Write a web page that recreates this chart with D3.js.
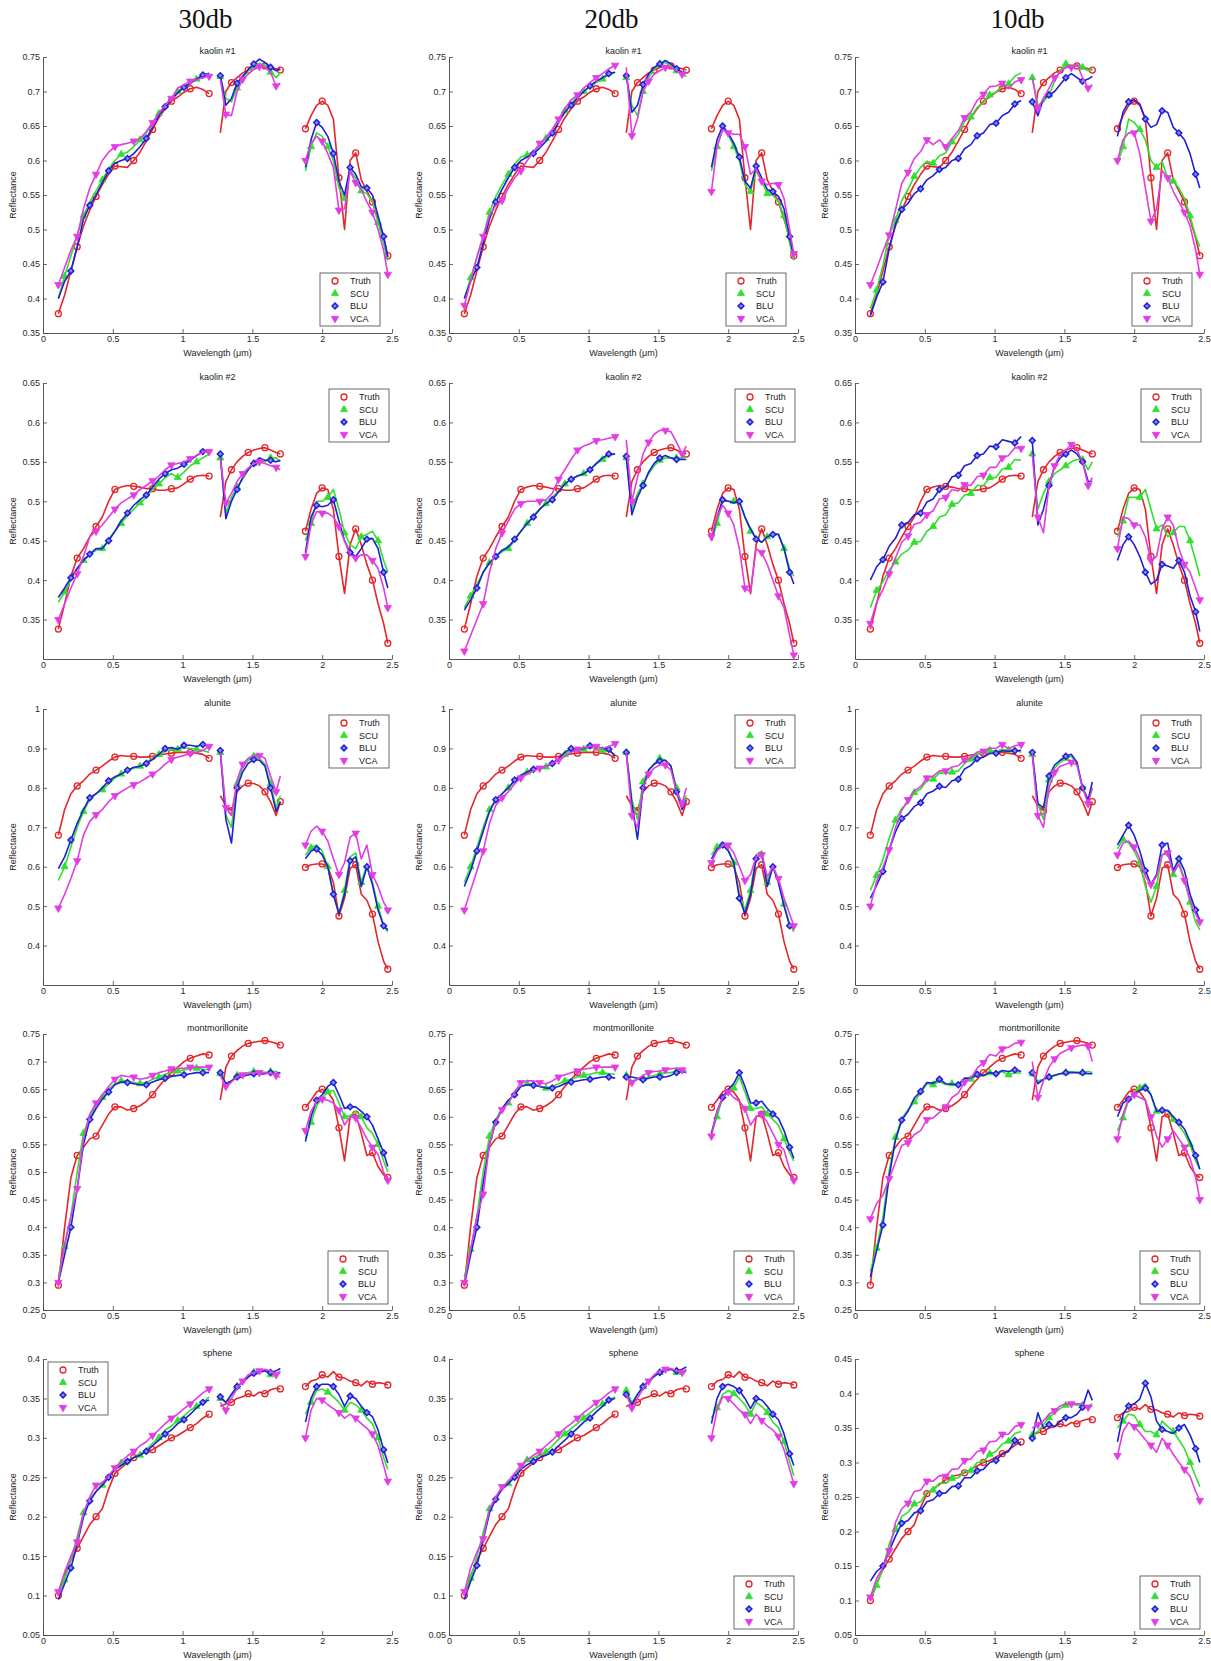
<!DOCTYPE html>
<html><head><meta charset="utf-8">
<script src="https://cdn.jsdelivr.net/npm/d3@7"></script>
<style>
body{margin:0;background:#fff;}
svg{display:block;}
</style></head><body>
<svg id="chart" width="1211" height="1661"></svg>
<script>
// ---------- data ----------
const wl1 = [0.11,0.155,0.2,0.245,0.29,0.335,0.38,0.425,0.47,0.515,0.56,0.605,0.65,0.695,0.74,0.785,0.83,0.875,0.92,0.965,1.01,1.055,1.1,1.145,1.19];
const wl2 = [1.27,1.31,1.35,1.39,1.43,1.47,1.51,1.55,1.59,1.63,1.67,1.7];
const wl3 = [1.88,1.92,1.96,2,2.04,2.08,2.12,2.16,2.2,2.24,2.28,2.32,2.36,2.4,2.44,2.47];
const materials = ["kaolin #1","kaolin #2","alunite","montmorillonite","sphene"];
const noiseLevels = ["30db","20db","10db"];
const seriesNames = ["Truth","SCU","BLU","VCA"];
const xTicks = [0,0.5,1,1.5,2,2.5];

const yDomKaolin1 = [0.35,0.75], yTicksKaolin1 = [0.35,0.4,0.45,0.5,0.55,0.6,0.65,0.7,0.75];
const yDomKaolin2 = [0.3,0.65], yTicksKaolin2 = [0.35,0.4,0.45,0.5,0.55,0.6,0.65];
const yDomAlunite = [0.3,1], yTicksAlunite = [0.4,0.5,0.6,0.7,0.8,0.9,1];
const yDomMont = [0.25,0.75], yTicksMont = [0.25,0.3,0.35,0.4,0.45,0.5,0.55,0.6,0.65,0.7,0.75];
const yDomSphene = [0.05,0.4], yTicksSphene = [0.05,0.1,0.15,0.2,0.25,0.3,0.35,0.4];
const yDomSphene10 = [0.05,0.45], yTicksSphene10 = [0.05,0.1,0.15,0.2,0.25,0.3,0.35,0.4,0.45];

// kaolin #1
const truthKaolin1 = [0.378,0.405,0.44,0.475,0.505,0.528,0.548,0.565,0.58,0.592,0.591,0.59,0.6,0.612,0.628,0.645,0.662,0.675,0.686,0.692,0.699,0.704,0.706,0.703,0.697, 0.64,0.7,0.713,0.72,0.727,0.731,0.735,0.737,0.737,0.735,0.733,0.731, 0.646,0.665,0.68,0.686,0.68,0.66,0.575,0.5,0.6,0.611,0.572,0.556,0.54,0.515,0.488,0.462];
const scuKaolin1_30 = [0.4,0.432,0.462,0.492,0.52,0.54,0.556,0.572,0.588,0.6,0.609,0.612,0.62,0.63,0.64,0.655,0.668,0.68,0.69,0.7,0.708,0.712,0.718,0.723,0.727, 0.722,0.69,0.685,0.705,0.72,0.73,0.737,0.741,0.738,0.728,0.72,0.727, 0.585,0.62,0.64,0.635,0.62,0.6,0.56,0.545,0.585,0.575,0.556,0.552,0.54,0.51,0.48,0.455];
const bluKaolin1_30 = [0.4,0.425,0.44,0.475,0.515,0.535,0.55,0.568,0.585,0.596,0.6,0.603,0.61,0.62,0.632,0.648,0.665,0.678,0.688,0.698,0.706,0.712,0.718,0.724,0.726, 0.723,0.68,0.69,0.712,0.722,0.732,0.74,0.747,0.742,0.735,0.73,0.733, 0.59,0.63,0.655,0.648,0.635,0.61,0.57,0.55,0.59,0.58,0.562,0.56,0.55,0.52,0.49,0.46];
const vcaKaolin1_30 = [0.42,0.445,0.47,0.49,0.53,0.56,0.58,0.6,0.612,0.62,0.623,0.625,0.628,0.632,0.642,0.655,0.668,0.68,0.69,0.705,0.71,0.715,0.717,0.72,0.722, 0.718,0.667,0.665,0.7,0.718,0.725,0.732,0.736,0.735,0.728,0.708,0.712, 0.6,0.625,0.635,0.628,0.61,0.59,0.528,0.53,0.585,0.568,0.558,0.54,0.525,0.5,0.47,0.435];
const scuKaolin1_20 = [0.4,0.43,0.46,0.49,0.525,0.548,0.565,0.58,0.595,0.605,0.608,0.612,0.622,0.632,0.645,0.66,0.672,0.683,0.693,0.7,0.707,0.713,0.718,0.724,0.728, 0.72,0.68,0.665,0.7,0.72,0.732,0.74,0.742,0.738,0.73,0.724,0.722, 0.585,0.62,0.645,0.638,0.62,0.6,0.565,0.555,0.585,0.57,0.552,0.55,0.54,0.52,0.48,0.455];
const bluKaolin1_20 = [0.4,0.425,0.445,0.48,0.515,0.54,0.558,0.575,0.59,0.6,0.605,0.61,0.618,0.628,0.64,0.655,0.67,0.68,0.69,0.7,0.708,0.715,0.72,0.726,0.728, 0.723,0.67,0.68,0.71,0.725,0.735,0.74,0.745,0.74,0.733,0.728,0.727, 0.59,0.63,0.65,0.64,0.625,0.605,0.57,0.56,0.592,0.575,0.558,0.555,0.548,0.53,0.49,0.46];
const vcaKaolin1_20 = [0.39,0.425,0.46,0.49,0.52,0.535,0.542,0.56,0.575,0.585,0.6,0.612,0.625,0.633,0.645,0.66,0.675,0.688,0.695,0.705,0.713,0.72,0.726,0.733,0.738, 0.735,0.636,0.66,0.7,0.715,0.725,0.73,0.735,0.735,0.73,0.725,0.726, 0.555,0.62,0.645,0.64,0.638,0.638,0.62,0.58,0.588,0.57,0.565,0.567,0.565,0.545,0.5,0.465];
const scuKaolin1_10 = [0.385,0.412,0.448,0.492,0.513,0.542,0.558,0.577,0.59,0.599,0.596,0.607,0.611,0.627,0.638,0.657,0.663,0.677,0.684,0.695,0.699,0.708,0.711,0.722,0.727, 0.72,0.68,0.685,0.695,0.715,0.73,0.74,0.738,0.738,0.735,0.73,0.735, 0.595,0.62,0.66,0.655,0.645,0.63,0.6,0.59,0.598,0.575,0.57,0.56,0.545,0.52,0.49,0.475];
const bluKaolin1_10 = [0.375,0.402,0.424,0.472,0.508,0.529,0.538,0.552,0.559,0.572,0.578,0.587,0.59,0.6,0.603,0.617,0.623,0.636,0.64,0.652,0.654,0.665,0.67,0.682,0.687, 0.685,0.665,0.69,0.695,0.7,0.71,0.72,0.726,0.72,0.715,0.718,0.722, 0.635,0.67,0.685,0.688,0.682,0.66,0.648,0.652,0.672,0.67,0.648,0.64,0.63,0.61,0.58,0.56];
const vcaKaolin1_10 = [0.42,0.443,0.468,0.492,0.528,0.567,0.583,0.603,0.613,0.63,0.623,0.63,0.62,0.632,0.643,0.662,0.67,0.687,0.696,0.707,0.708,0.712,0.704,0.714,0.717, 0.72,0.675,0.69,0.705,0.72,0.728,0.735,0.735,0.74,0.72,0.705,0.71, 0.6,0.63,0.64,0.64,0.61,0.56,0.512,0.53,0.585,0.575,0.555,0.54,0.525,0.505,0.47,0.435];

// kaolin #2
const truthKaolin2 = [0.338,0.37,0.405,0.428,0.44,0.455,0.468,0.48,0.5,0.515,0.518,0.52,0.519,0.518,0.516,0.516,0.514,0.514,0.516,0.517,0.522,0.528,0.532,0.533,0.532, 0.48,0.525,0.54,0.55,0.557,0.562,0.565,0.567,0.568,0.565,0.562,0.56, 0.462,0.49,0.51,0.517,0.515,0.49,0.43,0.383,0.445,0.465,0.445,0.42,0.4,0.37,0.345,0.32];
const scuKaolin2_30 = [0.372,0.385,0.4,0.415,0.425,0.432,0.438,0.44,0.452,0.462,0.472,0.482,0.49,0.498,0.505,0.515,0.522,0.53,0.535,0.53,0.537,0.545,0.55,0.555,0.56, 0.555,0.485,0.505,0.518,0.528,0.54,0.548,0.552,0.55,0.555,0.555,0.55, 0.45,0.472,0.5,0.5,0.505,0.515,0.49,0.46,0.445,0.44,0.455,0.458,0.462,0.45,0.425,0.41];
const bluKaolin2_30 = [0.378,0.39,0.403,0.415,0.425,0.433,0.44,0.44,0.45,0.462,0.475,0.485,0.495,0.502,0.508,0.518,0.528,0.535,0.54,0.542,0.547,0.552,0.558,0.563,0.562, 0.56,0.478,0.5,0.515,0.53,0.54,0.548,0.555,0.552,0.552,0.55,0.552, 0.435,0.48,0.495,0.493,0.495,0.502,0.475,0.45,0.435,0.43,0.44,0.452,0.453,0.44,0.41,0.39];
const vcaKaolin2_30 = [0.35,0.37,0.39,0.408,0.43,0.455,0.462,0.47,0.48,0.49,0.498,0.503,0.508,0.515,0.52,0.526,0.532,0.54,0.546,0.548,0.55,0.554,0.558,0.562,0.563, 0.555,0.498,0.51,0.525,0.535,0.542,0.548,0.55,0.548,0.545,0.543,0.54, 0.43,0.47,0.487,0.485,0.485,0.48,0.468,0.45,0.432,0.428,0.432,0.432,0.425,0.415,0.39,0.365];
const scuKaolin2_20 = [0.365,0.38,0.395,0.41,0.422,0.43,0.436,0.44,0.45,0.462,0.472,0.482,0.49,0.497,0.505,0.513,0.522,0.528,0.532,0.535,0.54,0.547,0.553,0.558,0.56, 0.555,0.49,0.51,0.522,0.535,0.545,0.552,0.555,0.555,0.555,0.555,0.556, 0.45,0.472,0.5,0.5,0.5,0.5,0.48,0.462,0.455,0.448,0.455,0.46,0.458,0.44,0.415,0.405];
const bluKaolin2_20 = [0.362,0.375,0.39,0.41,0.422,0.43,0.438,0.442,0.452,0.462,0.472,0.48,0.49,0.497,0.502,0.512,0.522,0.528,0.532,0.535,0.54,0.548,0.555,0.56,0.56, 0.557,0.483,0.505,0.52,0.537,0.548,0.555,0.558,0.555,0.553,0.553,0.553, 0.45,0.48,0.502,0.5,0.498,0.5,0.48,0.465,0.452,0.448,0.455,0.458,0.458,0.44,0.41,0.395];
const vcaKaolin2_20 = [0.31,0.33,0.35,0.37,0.41,0.44,0.46,0.475,0.49,0.497,0.5,0.5,0.5,0.502,0.51,0.528,0.54,0.553,0.565,0.57,0.573,0.577,0.578,0.58,0.582, 0.578,0.5,0.53,0.56,0.575,0.585,0.59,0.59,0.588,0.575,0.56,0.57, 0.455,0.48,0.495,0.485,0.47,0.44,0.39,0.385,0.44,0.435,0.42,0.4,0.38,0.365,0.33,0.305];
const scuKaolin2_10 = [0.365,0.387,0.398,0.413,0.423,0.433,0.438,0.448,0.449,0.462,0.468,0.48,0.483,0.496,0.498,0.508,0.51,0.52,0.52,0.53,0.53,0.541,0.543,0.553,0.552, 0.56,0.49,0.51,0.525,0.535,0.54,0.545,0.55,0.553,0.553,0.54,0.55, 0.455,0.475,0.505,0.505,0.505,0.515,0.49,0.465,0.47,0.455,0.46,0.468,0.468,0.45,0.425,0.405];
const bluKaolin2_10 = [0.4,0.417,0.426,0.443,0.453,0.47,0.473,0.483,0.485,0.499,0.503,0.515,0.518,0.531,0.533,0.545,0.548,0.558,0.56,0.57,0.569,0.578,0.576,0.574,0.582, 0.577,0.47,0.49,0.52,0.545,0.555,0.56,0.565,0.56,0.55,0.525,0.525, 0.425,0.445,0.455,0.445,0.43,0.41,0.395,0.4,0.42,0.418,0.415,0.425,0.41,0.38,0.36,0.335];
const vcaKaolin2_10 = [0.345,0.372,0.388,0.408,0.428,0.448,0.456,0.471,0.473,0.483,0.488,0.503,0.505,0.515,0.513,0.521,0.52,0.531,0.533,0.543,0.543,0.555,0.558,0.568,0.567, 0.56,0.48,0.46,0.52,0.545,0.56,0.565,0.572,0.565,0.55,0.52,0.53, 0.44,0.48,0.478,0.47,0.47,0.455,0.425,0.43,0.465,0.48,0.47,0.44,0.42,0.41,0.39,0.375];

// alunite
const truthAlunite = [0.68,0.745,0.785,0.805,0.818,0.835,0.845,0.855,0.868,0.878,0.882,0.88,0.88,0.878,0.878,0.88,0.883,0.886,0.888,0.89,0.89,0.89,0.888,0.885,0.875, 0.78,0.755,0.742,0.79,0.805,0.812,0.811,0.805,0.79,0.765,0.73,0.765, 0.598,0.605,0.607,0.607,0.6,0.56,0.475,0.52,0.596,0.605,0.53,0.515,0.48,0.41,0.36,0.34];
const scuAlunite_30 = [0.565,0.6,0.65,0.7,0.74,0.77,0.785,0.795,0.81,0.825,0.835,0.843,0.85,0.855,0.865,0.875,0.885,0.893,0.897,0.898,0.902,0.9,0.898,0.895,0.89, 0.89,0.73,0.7,0.81,0.85,0.87,0.88,0.875,0.86,0.81,0.75,0.78, 0.63,0.648,0.655,0.64,0.6,0.53,0.48,0.54,0.625,0.635,0.56,0.605,0.56,0.5,0.45,0.435];
const bluAlunite_30 = [0.595,0.625,0.668,0.71,0.745,0.775,0.785,0.8,0.818,0.828,0.835,0.845,0.852,0.855,0.862,0.872,0.885,0.9,0.902,0.898,0.908,0.908,0.905,0.91,0.905, 0.895,0.72,0.66,0.8,0.84,0.862,0.872,0.87,0.855,0.8,0.74,0.765, 0.62,0.64,0.645,0.63,0.6,0.53,0.48,0.53,0.615,0.625,0.55,0.6,0.555,0.49,0.45,0.44];
const vcaAlunite_30 = [0.495,0.53,0.57,0.615,0.68,0.715,0.732,0.745,0.765,0.78,0.79,0.8,0.808,0.815,0.825,0.835,0.845,0.86,0.872,0.878,0.882,0.888,0.89,0.895,0.905, 0.89,0.75,0.73,0.82,0.86,0.875,0.882,0.882,0.875,0.83,0.79,0.83, 0.655,0.69,0.703,0.69,0.665,0.62,0.58,0.61,0.675,0.685,0.62,0.655,0.58,0.55,0.51,0.49];
const scuAlunite_20 = [0.56,0.6,0.65,0.7,0.745,0.77,0.785,0.8,0.815,0.83,0.84,0.845,0.85,0.853,0.86,0.873,0.885,0.895,0.897,0.898,0.902,0.9,0.895,0.893,0.885, 0.89,0.77,0.72,0.815,0.845,0.862,0.875,0.87,0.855,0.8,0.755,0.78, 0.63,0.65,0.655,0.645,0.61,0.53,0.49,0.54,0.63,0.64,0.56,0.605,0.56,0.505,0.455,0.435];
const bluAlunite_20 = [0.55,0.59,0.64,0.69,0.74,0.77,0.785,0.8,0.82,0.832,0.84,0.847,0.852,0.855,0.862,0.875,0.89,0.9,0.898,0.9,0.907,0.905,0.9,0.898,0.88, 0.89,0.76,0.67,0.8,0.845,0.86,0.868,0.87,0.855,0.79,0.745,0.77, 0.62,0.645,0.655,0.64,0.61,0.52,0.48,0.53,0.62,0.635,0.55,0.6,0.56,0.5,0.45,0.445];
const vcaAlunite_20 = [0.49,0.54,0.59,0.64,0.71,0.755,0.775,0.79,0.81,0.825,0.835,0.843,0.85,0.855,0.862,0.87,0.88,0.89,0.898,0.902,0.905,0.905,0.9,0.905,0.912, 0.89,0.73,0.7,0.8,0.835,0.85,0.858,0.858,0.845,0.79,0.76,0.8, 0.61,0.64,0.655,0.655,0.635,0.6,0.565,0.58,0.625,0.63,0.575,0.6,0.57,0.52,0.48,0.45];
const scuAlunite_10 = [0.54,0.578,0.618,0.673,0.718,0.748,0.762,0.788,0.797,0.818,0.822,0.838,0.837,0.84,0.843,0.862,0.873,0.887,0.888,0.895,0.893,0.897,0.896,0.897,0.89, 0.885,0.76,0.72,0.82,0.85,0.865,0.875,0.88,0.86,0.8,0.765,0.8, 0.645,0.67,0.66,0.64,0.61,0.55,0.51,0.55,0.63,0.64,0.58,0.61,0.57,0.51,0.46,0.44];
const bluAlunite_10 = [0.52,0.553,0.588,0.643,0.688,0.722,0.733,0.753,0.762,0.785,0.792,0.804,0.801,0.818,0.822,0.848,0.857,0.874,0.878,0.887,0.888,0.894,0.893,0.894,0.895, 0.89,0.76,0.75,0.83,0.858,0.87,0.88,0.885,0.865,0.8,0.77,0.815, 0.655,0.68,0.705,0.68,0.64,0.59,0.555,0.58,0.655,0.66,0.59,0.62,0.59,0.53,0.49,0.465];
const vcaAlunite_10 = [0.5,0.563,0.598,0.643,0.698,0.743,0.77,0.793,0.803,0.825,0.83,0.843,0.843,0.853,0.856,0.871,0.876,0.891,0.893,0.901,0.9,0.91,0.899,0.907,0.91, 0.885,0.73,0.7,0.8,0.84,0.855,0.86,0.865,0.858,0.8,0.76,0.8, 0.63,0.66,0.665,0.65,0.62,0.575,0.555,0.575,0.63,0.635,0.585,0.605,0.565,0.515,0.48,0.46];

// montmorillonite
const truthMont = [0.295,0.4,0.49,0.53,0.545,0.56,0.565,0.585,0.605,0.618,0.618,0.612,0.615,0.62,0.628,0.64,0.655,0.668,0.68,0.69,0.7,0.706,0.71,0.714,0.712, 0.63,0.69,0.71,0.72,0.728,0.733,0.735,0.737,0.738,0.736,0.733,0.73, 0.617,0.63,0.645,0.65,0.645,0.63,0.58,0.52,0.6,0.605,0.57,0.53,0.535,0.51,0.495,0.49];
const scuMont_30 = [0.31,0.365,0.42,0.5,0.57,0.6,0.62,0.635,0.65,0.66,0.665,0.665,0.662,0.66,0.662,0.668,0.672,0.677,0.68,0.683,0.685,0.687,0.688,0.686,0.685, 0.678,0.66,0.665,0.675,0.678,0.68,0.682,0.68,0.68,0.682,0.682,0.678, 0.56,0.59,0.62,0.635,0.645,0.648,0.625,0.6,0.602,0.61,0.6,0.58,0.57,0.55,0.52,0.5];
const bluMont_30 = [0.3,0.35,0.4,0.47,0.55,0.595,0.615,0.632,0.645,0.658,0.663,0.662,0.66,0.658,0.658,0.663,0.667,0.67,0.673,0.675,0.676,0.678,0.68,0.68,0.68, 0.68,0.66,0.665,0.672,0.673,0.676,0.678,0.677,0.678,0.68,0.678,0.68, 0.555,0.6,0.63,0.64,0.655,0.662,0.64,0.615,0.618,0.618,0.61,0.6,0.585,0.56,0.535,0.51];
const vcaMont_30 = [0.3,0.37,0.42,0.47,0.56,0.605,0.625,0.64,0.655,0.668,0.675,0.673,0.672,0.668,0.67,0.675,0.68,0.683,0.687,0.688,0.688,0.69,0.69,0.69,0.69, 0.675,0.655,0.663,0.672,0.676,0.678,0.68,0.68,0.68,0.678,0.675,0.672, 0.575,0.61,0.628,0.632,0.63,0.625,0.612,0.585,0.6,0.598,0.58,0.56,0.545,0.532,0.5,0.485];
const scuMont_20 = [0.31,0.36,0.42,0.5,0.565,0.595,0.615,0.625,0.645,0.655,0.66,0.66,0.655,0.652,0.655,0.66,0.665,0.668,0.672,0.675,0.677,0.68,0.68,0.678,0.677, 0.675,0.665,0.668,0.67,0.672,0.675,0.678,0.68,0.68,0.683,0.687,0.683, 0.57,0.6,0.635,0.645,0.652,0.672,0.645,0.615,0.615,0.618,0.605,0.595,0.585,0.56,0.535,0.52];
const bluMont_20 = [0.295,0.35,0.4,0.48,0.55,0.59,0.615,0.63,0.64,0.655,0.658,0.657,0.655,0.652,0.652,0.655,0.66,0.663,0.665,0.667,0.668,0.67,0.672,0.672,0.67, 0.672,0.672,0.67,0.667,0.67,0.672,0.672,0.672,0.675,0.68,0.682,0.68, 0.57,0.61,0.635,0.65,0.66,0.68,0.655,0.625,0.625,0.628,0.615,0.605,0.597,0.575,0.545,0.525];
const vcaMont_20 = [0.3,0.36,0.42,0.46,0.55,0.59,0.613,0.625,0.645,0.662,0.665,0.665,0.662,0.66,0.665,0.672,0.676,0.68,0.683,0.686,0.688,0.69,0.69,0.69,0.69, 0.67,0.662,0.668,0.675,0.68,0.682,0.683,0.685,0.687,0.688,0.685,0.68, 0.565,0.61,0.635,0.645,0.635,0.628,0.615,0.585,0.6,0.605,0.59,0.57,0.55,0.54,0.505,0.485];
const scuMont_10 = [0.32,0.362,0.418,0.502,0.563,0.597,0.613,0.627,0.643,0.66,0.658,0.664,0.658,0.66,0.658,0.667,0.668,0.675,0.674,0.68,0.678,0.682,0.676,0.68,0.679, 0.678,0.665,0.668,0.672,0.676,0.678,0.68,0.682,0.68,0.68,0.682,0.68, 0.575,0.598,0.63,0.645,0.652,0.66,0.64,0.61,0.612,0.61,0.595,0.585,0.57,0.55,0.52,0.505];
const bluMont_10 = [0.31,0.357,0.404,0.492,0.558,0.594,0.61,0.634,0.646,0.662,0.661,0.668,0.66,0.659,0.658,0.67,0.67,0.677,0.675,0.68,0.678,0.684,0.682,0.685,0.682, 0.68,0.66,0.668,0.672,0.675,0.678,0.68,0.68,0.68,0.68,0.678,0.678, 0.6,0.625,0.632,0.64,0.648,0.652,0.64,0.61,0.612,0.612,0.6,0.59,0.578,0.555,0.53,0.505];
const vcaMont_10 = [0.415,0.443,0.458,0.488,0.518,0.548,0.553,0.568,0.575,0.595,0.598,0.608,0.618,0.635,0.643,0.663,0.67,0.688,0.698,0.713,0.71,0.723,0.726,0.733,0.735, 0.7,0.635,0.665,0.69,0.705,0.715,0.72,0.725,0.728,0.73,0.728,0.7, 0.56,0.605,0.632,0.64,0.635,0.63,0.6,0.565,0.545,0.56,0.575,0.56,0.545,0.525,0.49,0.45];

// sphene
const truthSphene = [0.1,0.125,0.145,0.16,0.175,0.19,0.2,0.21,0.235,0.255,0.262,0.268,0.275,0.28,0.282,0.285,0.29,0.295,0.3,0.303,0.308,0.313,0.318,0.325,0.33, 0.34,0.343,0.345,0.35,0.352,0.356,0.353,0.358,0.356,0.361,0.363,0.362, 0.365,0.372,0.374,0.38,0.377,0.384,0.377,0.376,0.372,0.37,0.366,0.372,0.368,0.37,0.369,0.367];
const scuSphene_30 = [0.1,0.12,0.145,0.175,0.205,0.222,0.232,0.24,0.25,0.26,0.268,0.272,0.275,0.278,0.285,0.293,0.3,0.31,0.315,0.322,0.328,0.335,0.34,0.345,0.352, 0.35,0.345,0.355,0.365,0.372,0.378,0.383,0.385,0.385,0.38,0.38,0.385, 0.33,0.345,0.36,0.362,0.358,0.352,0.345,0.335,0.345,0.342,0.335,0.325,0.318,0.3,0.275,0.26];
const bluSphene_30 = [0.095,0.115,0.135,0.165,0.2,0.22,0.232,0.24,0.25,0.26,0.265,0.27,0.275,0.278,0.283,0.29,0.297,0.305,0.31,0.318,0.323,0.33,0.338,0.345,0.348, 0.352,0.345,0.355,0.365,0.37,0.377,0.382,0.383,0.385,0.383,0.385,0.388, 0.32,0.35,0.365,0.368,0.368,0.365,0.355,0.34,0.353,0.35,0.34,0.332,0.327,0.31,0.285,0.268];
const vcaSphene_30 = [0.105,0.13,0.15,0.168,0.205,0.225,0.24,0.243,0.252,0.262,0.27,0.277,0.283,0.29,0.295,0.303,0.31,0.318,0.325,0.33,0.337,0.343,0.35,0.357,0.362, 0.345,0.335,0.35,0.362,0.372,0.38,0.383,0.385,0.387,0.385,0.38,0.383, 0.3,0.335,0.35,0.348,0.342,0.337,0.332,0.325,0.33,0.325,0.318,0.312,0.305,0.29,0.265,0.245];
const scuSphene_20 = [0.105,0.122,0.15,0.18,0.21,0.225,0.235,0.242,0.252,0.262,0.272,0.275,0.278,0.282,0.29,0.298,0.305,0.312,0.318,0.325,0.332,0.338,0.343,0.348,0.352, 0.36,0.345,0.355,0.365,0.373,0.378,0.383,0.387,0.387,0.383,0.38,0.385, 0.325,0.338,0.355,0.36,0.356,0.35,0.342,0.33,0.345,0.34,0.332,0.32,0.313,0.295,0.27,0.252];
const bluSphene_20 = [0.095,0.118,0.138,0.17,0.205,0.222,0.235,0.242,0.25,0.26,0.266,0.27,0.275,0.278,0.282,0.29,0.297,0.305,0.312,0.32,0.325,0.333,0.34,0.348,0.35, 0.355,0.342,0.355,0.365,0.372,0.378,0.383,0.385,0.387,0.385,0.387,0.39, 0.318,0.35,0.365,0.368,0.365,0.36,0.35,0.337,0.35,0.348,0.34,0.33,0.323,0.305,0.28,0.265];
const vcaSphene_20 = [0.105,0.135,0.155,0.172,0.21,0.225,0.238,0.245,0.255,0.265,0.272,0.278,0.283,0.29,0.297,0.305,0.312,0.318,0.325,0.332,0.338,0.345,0.35,0.357,0.362, 0.355,0.338,0.35,0.362,0.372,0.38,0.385,0.387,0.388,0.385,0.383,0.387, 0.3,0.335,0.352,0.35,0.343,0.335,0.33,0.318,0.33,0.322,0.315,0.31,0.302,0.285,0.26,0.242];
const scuSphene_10 = [0.1,0.122,0.146,0.182,0.203,0.222,0.228,0.24,0.243,0.257,0.26,0.27,0.27,0.277,0.278,0.287,0.288,0.3,0.301,0.312,0.316,0.327,0.331,0.342,0.345, 0.34,0.345,0.355,0.365,0.372,0.378,0.383,0.385,0.383,0.383,0.382,0.385, 0.35,0.36,0.37,0.368,0.355,0.345,0.345,0.34,0.36,0.352,0.345,0.333,0.32,0.3,0.28,0.265];
const bluSphene_10 = [0.128,0.142,0.15,0.172,0.193,0.212,0.216,0.227,0.23,0.243,0.246,0.255,0.256,0.265,0.266,0.278,0.278,0.288,0.29,0.3,0.303,0.312,0.316,0.332,0.325, 0.335,0.372,0.35,0.355,0.352,0.36,0.365,0.365,0.37,0.38,0.405,0.39, 0.33,0.37,0.382,0.385,0.392,0.415,0.395,0.36,0.348,0.345,0.342,0.35,0.355,0.34,0.32,0.3];
const vcaSphene_10 = [0.105,0.132,0.148,0.172,0.213,0.233,0.241,0.258,0.26,0.273,0.273,0.281,0.28,0.29,0.291,0.303,0.305,0.316,0.318,0.33,0.331,0.341,0.341,0.352,0.355, 0.35,0.355,0.36,0.37,0.375,0.382,0.385,0.385,0.385,0.385,0.38,0.382, 0.31,0.345,0.358,0.352,0.343,0.333,0.325,0.315,0.335,0.325,0.312,0.3,0.29,0.28,0.258,0.245];

const legendCorners = [["se1","se1","se1"],["ne","ne","ne"],["ne","ne","ne"],["se","se","se"],["nw","se","se"]];

// ---------- assemble ----------
const rows = [
  {title: materials[0], truth: truthKaolin1, dom: [yDomKaolin1,yDomKaolin1,yDomKaolin1], ticks: [yTicksKaolin1,yTicksKaolin1,yTicksKaolin1],
   est: [[scuKaolin1_30,bluKaolin1_30,vcaKaolin1_30],[scuKaolin1_20,bluKaolin1_20,vcaKaolin1_20],[scuKaolin1_10,bluKaolin1_10,vcaKaolin1_10]]},
  {title: materials[1], truth: truthKaolin2, dom: [yDomKaolin2,yDomKaolin2,yDomKaolin2], ticks: [yTicksKaolin2,yTicksKaolin2,yTicksKaolin2],
   est: [[scuKaolin2_30,bluKaolin2_30,vcaKaolin2_30],[scuKaolin2_20,bluKaolin2_20,vcaKaolin2_20],[scuKaolin2_10,bluKaolin2_10,vcaKaolin2_10]]},
  {title: materials[2], truth: truthAlunite, dom: [yDomAlunite,yDomAlunite,yDomAlunite], ticks: [yTicksAlunite,yTicksAlunite,yTicksAlunite],
   est: [[scuAlunite_30,bluAlunite_30,vcaAlunite_30],[scuAlunite_20,bluAlunite_20,vcaAlunite_20],[scuAlunite_10,bluAlunite_10,vcaAlunite_10]]},
  {title: materials[3], truth: truthMont, dom: [yDomMont,yDomMont,yDomMont], ticks: [yTicksMont,yTicksMont,yTicksMont],
   est: [[scuMont_30,bluMont_30,vcaMont_30],[scuMont_20,bluMont_20,vcaMont_20],[scuMont_10,bluMont_10,vcaMont_10]]},
  {title: materials[4], truth: truthSphene, dom: [yDomSphene,yDomSphene,yDomSphene10], ticks: [yTicksSphene,yTicksSphene,yTicksSphene10],
   est: [[scuSphene_30,bluSphene_30,vcaSphene_30],[scuSphene_20,bluSphene_20,vcaSphene_20],[scuSphene_10,bluSphene_10,vcaSphene_10]]}
];

// ---------- layout & style ----------
const svg = d3.select("#chart");
const colLeft = [43, 449, 855];
const rowTop = [57, 383, 709, 1034, 1359];
const W = 349, H = 276;
const FONT = "'Liberation Sans', Arial, Helvetica, sans-serif";
const colors = {Truth:"#e4262b", SCU:"#30df30", BLU:"#1f1fd6", VCA:"#e23de2"};
// marker phase per spectral segment (every 3rd sample carries a marker)
const markerPhase = {Truth:[0,1,0], SCU:[2,0,2], BLU:[1,0,1], VCA:[0,2,0]};
const wls = [wl1, wl2, wl3];

svg.append("rect").attr("width",1211).attr("height",1661).attr("fill","#fff");

noiseLevels.forEach((lv, c) => {
  svg.append("text").attr("x", colLeft[c] + W/2 - 12).attr("y", 28)
    .attr("text-anchor","middle").attr("font-family","'Liberation Serif','Times New Roman',serif")
    .attr("font-size", 27).attr("fill","#111").text(lv);
});

function drawMarker(g, cx, cy, name) {
  const col = colors[name];
  if (name === "Truth") {
    g.append("circle").attr("cx",cx).attr("cy",cy).attr("r",3)
      .attr("fill","none").attr("stroke",col).attr("stroke-width",1.3);
  } else if (name === "SCU") {
    g.append("path").attr("d", d3.symbol().type(d3.symbolTriangle).size(22)())
      .attr("transform",`translate(${cx},${cy})`).attr("fill",col).attr("stroke",col).attr("stroke-width",0.8);
  } else if (name === "BLU") {
    g.append("path").attr("d", d3.symbol().type(d3.symbolSquare).size(17)())
      .attr("transform",`translate(${cx},${cy}) rotate(45)`).attr("fill","#8d8df0").attr("stroke",col).attr("stroke-width",1.5);
  } else {
    g.append("path").attr("d", d3.symbol().type(d3.symbolTriangle).size(24)())
      .attr("transform",`translate(${cx},${cy}) rotate(180)`).attr("fill",col).attr("stroke",col).attr("stroke-width",0.8);
  }
}

function drawSeries(g, x, y, vals, name) {
  let off = 0;
  const line = d3.line().x(d => x(d[0])).y(d => y(d[1]));
  wls.forEach((wl, s) => {
    const pts = wl.map((w, i) => [w, vals[off + i]]).filter(p => p[1] != null);
    off += wl.length;
    g.append("path").datum(pts).attr("d", line).attr("fill","none")
      .attr("stroke", colors[name]).attr("stroke-width", 1.6).attr("stroke-linejoin","round");
    pts.forEach((p, i) => { if ((i + markerPhase[name][s]) % 3 === 0) drawMarker(g, x(p[0]), y(p[1]), name); });
  });
}

function styleAxis(ax) {
  ax.select(".domain").attr("stroke","#444").attr("stroke-width",0.9);
  ax.selectAll(".tick line").attr("stroke","#444").attr("stroke-width",0.8);
  ax.selectAll(".tick text").attr("fill","#2a2a2a").attr("font-size",9).attr("font-family",FONT);
}

function drawLegend(g, left, top, corner) {
  const LW = 60, LH = 53;
  let x0, y0;
  if (corner === "se1") { x0 = left + W - 12 - LW; y0 = top + H - 7 - LH; }
  else if (corner === "se") { x0 = left + W - 4 - LW; y0 = top + H - 6 - LH; }
  else if (corner === "ne") { x0 = left + W - 3 - LW; y0 = top + 6; }
  else { x0 = left + 5; y0 = top + 3; }
  const lg = g.append("g");
  lg.append("rect").attr("x",x0).attr("y",y0).attr("width",LW).attr("height",LH)
    .attr("fill","#fff").attr("stroke","#444").attr("stroke-width",0.8);
  seriesNames.forEach((s, i) => {
    const cy = y0 + 8 + i * 12.5;
    drawMarker(lg, x0 + 15, cy, s);
    lg.append("text").attr("x", x0 + 30).attr("y", cy + 3.2).attr("font-size",9)
      .attr("font-family",FONT).attr("fill","#222").text(s);
  });
}

rows.forEach((row, r) => {
  noiseLevels.forEach((lv, c) => {
    const left = colLeft[c], top = rowTop[r];
    const g = svg.append("g");
    const x = d3.scaleLinear().domain([0, 2.5]).range([left, left + W]);
    const y = d3.scaleLinear().domain(row.dom[c]).range([top + H, top]);

    const xa = g.append("g").attr("transform",`translate(0,${top + H})`)
      .call(d3.axisBottom(x).tickValues(xTicks).tickSizeInner(-4).tickSizeOuter(0).tickPadding(3).tickFormat(d3.format("~g")));
    styleAxis(xa);
    const ya = g.append("g").attr("transform",`translate(${left},0)`)
      .call(d3.axisLeft(y).tickValues(row.ticks[c]).tickSizeInner(-4).tickSizeOuter(0).tickPadding(3).tickFormat(d3.format("~g")));
    styleAxis(ya);

    g.append("text").attr("x", left + W/2).attr("y", top - 3).attr("text-anchor","middle")
      .attr("font-size",9).attr("font-family",FONT).attr("fill","#222").text(row.title);
    g.append("text").attr("x", left + W/2).attr("y", top + H + 23).attr("text-anchor","middle")
      .attr("font-size",9).attr("font-family",FONT).attr("fill","#222").text("Wavelength (\u03bcm)");
    g.append("text").attr("transform",`translate(${left - 27},${top + H/2}) rotate(-90)`).attr("text-anchor","middle")
      .attr("font-size",9).attr("font-family",FONT).attr("fill","#222").text("Reflectance");

    drawSeries(g, x, y, row.truth, "Truth");
    drawSeries(g, x, y, row.est[c][0], "SCU");
    drawSeries(g, x, y, row.est[c][1], "BLU");
    drawSeries(g, x, y, row.est[c][2], "VCA");

    drawLegend(g, left, top, legendCorners[r][c]);
  });
});
</script>
</body></html>
